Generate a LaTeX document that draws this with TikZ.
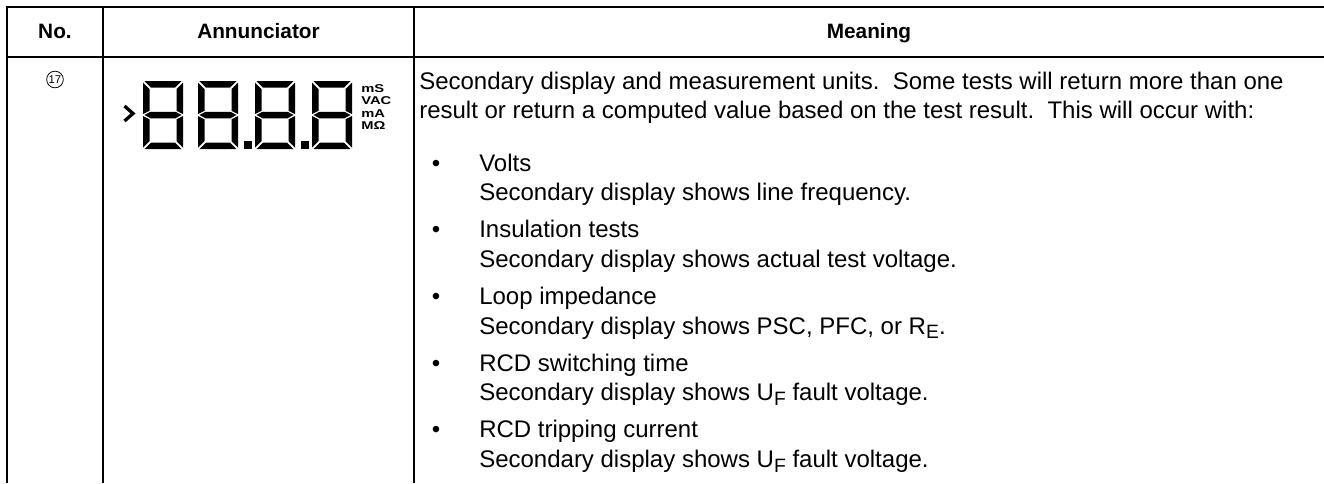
\documentclass[tikz,border=0pt]{standalone}
\usepackage{fontspec}
\setmainfont{Liberation Sans}
\newfontfamily\unitfont{Liberation Sans}[FakeStretch=1.3]
\usetikzlibrary{positioning, shapes.geometric}

\newcommand{\lowsub}[1]{\raisebox{-3.5pt}{\fontsize{14.5}{14.5}\selectfont #1}}

\begin{document}
\begin{tikzpicture}[x=0.75pt, y=-0.75pt,
  rule/.style={line width=1.5pt},
  headtxt/.style={font=\fontsize{15.6}{18}\selectfont\bfseries, inner sep=0pt, anchor=base},
  txt/.style={font=\fontsize{18}{21}\selectfont, inner sep=0pt, anchor=base west},
  unitlbl/.style={font=\unitfont\fontsize{8.5}{9.4}\selectfont\bfseries, inner sep=0pt, anchor=north west, align=left},
  numring/.style={draw, circle, line width=0.6pt, minimum size=12.5pt, inner sep=0pt, font=\fontsize{8.5}{8.5}\selectfont}]
\useasboundingbox (0,0) rectangle (1324,483);

% table rules
\draw[rule] (1324,6.5) -- (7,6.5) -- (7,483);
\draw[rule] (7,56.5) -- (1324,56.5);
\draw[rule] (103,6.5) -- (103,483);
\draw[rule] (414,6.5) -- (414,483);

% header
\node[headtxt] (hno) at (55,38.5) {No.};
\node[headtxt] (hann) at (258.5,38.5) {Annunciator};
\node[headtxt] (hmean) at (869,38.5) {Meaning};

% row number
\node[numring] (num) at (55,79.5) {17};

% lcd readout
\draw[line width=2.5pt] (124.5,106) -- (133,113.5) -- (124.5,121);
\foreach \x in {143,198,255,312}{
  \begin{scope}[shift={(\x,81)}]
    \fill (1.5,0) -- (38.5,0) -- (32,6.5) -- (8,6.5) -- cycle;
    \fill (1.5,68) -- (38.5,68) -- (32,61.5) -- (8,61.5) -- cycle;
    \fill (0,1.5) -- (6.5,8) -- (6.5,29.75) -- (0,33) -- cycle;
    \fill (0,35) -- (6.5,38.25) -- (6.5,60) -- (0,66.5) -- cycle;
    \fill (40,1.5) -- (33.5,8) -- (33.5,29.75) -- (40,33) -- cycle;
    \fill (40,35) -- (33.5,38.25) -- (33.5,60) -- (40,66.5) -- cycle;
    \fill (1.5,34) -- (7.5,30.75) -- (32.5,30.75) -- (38.5,34) -- (32.5,37.25) -- (7.5,37.25) -- cycle;
  \end{scope}
}
\fill (244,141) rectangle (252,149);
\fill (301,141) rectangle (309,149);
\node[unitlbl] (units) at (361,84) {mS\\VAC\\mA\\MΩ};

% meaning text
\node[txt] (intro1) at (419,89) {Secondary display and measurement units.\ \ Some tests will return more than one};
\node[txt] (intro2) at (419,118.5) {result or return a computed value based on the test result.\ \ This will occur with:};
\foreach \i/\itm/\desc in {0/Volts/{line frequency.},
    1/Insulation tests/{actual test voltage.},
    2/Loop impedance/{PSC, PFC, or R\lowsub{E}.},
    3/RCD switching time/{U\lowsub{F} fault voltage.},
    4/RCD tripping current/{U\lowsub{F} fault voltage.}}{
  \pgfmathsetmacro{\yy}{171+66.7*\i}
  \node[txt, anchor=base] (bul\i) at (436,\yy) {\textbullet};
  \node[txt] (itm\i) at (479,\yy) {\itm};
  \node[txt] (desc\i) at (479,\yy+29.6) {Secondary display shows \desc};
}
\end{tikzpicture}
\end{document}
